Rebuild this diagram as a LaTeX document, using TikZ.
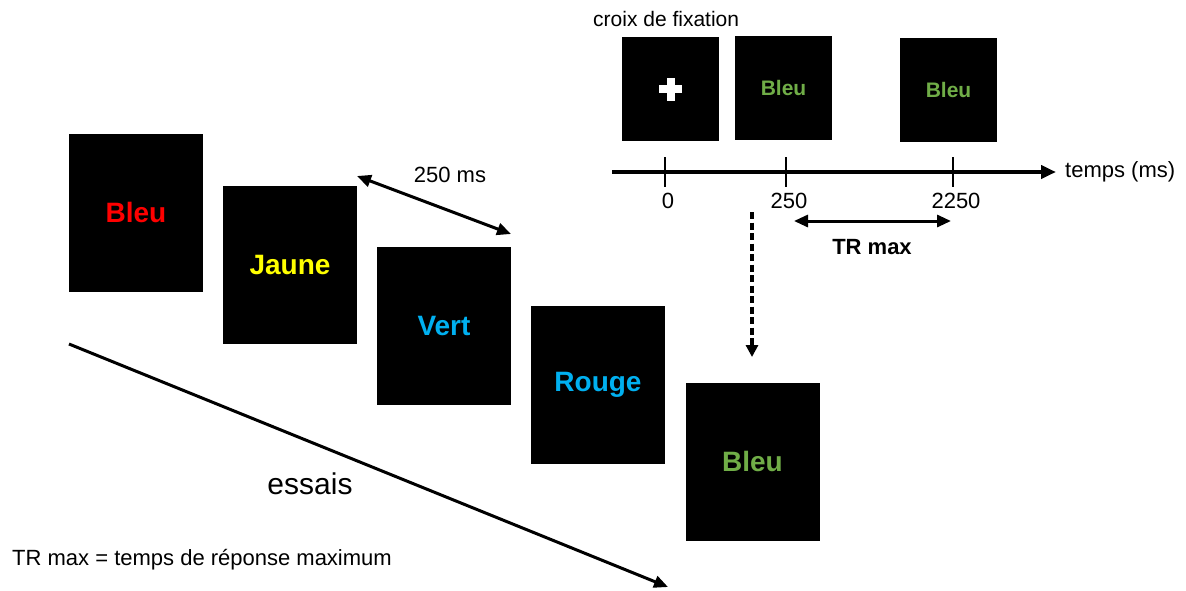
\documentclass[tikz,border=0pt]{standalone}
\usepackage{fontspec}
\setmainfont{Liberation Sans}
\usetikzlibrary{arrows.meta}

\definecolor{motrouge}{HTML}{FF0000}
\definecolor{motjaune}{HTML}{FFFF00}
\definecolor{motbleu}{HTML}{00B0F0}
\definecolor{motvert}{HTML}{70AD47}

\tikzset{
  ecran/.style={fill=black, draw=none, inner sep=0pt,
    minimum width=134pt, minimum height=158pt,
    font=\fontsize{28}{32}\selectfont\bfseries},
  petitecran/.style={fill=black, draw=none, inner sep=0pt,
    minimum width=97pt, minimum height=104pt,
    font=\fontsize{21}{24}\selectfont\bfseries, text=motvert},
  texte/.style={font=\fontsize{22}{26}\selectfont, inner sep=0pt},
  fleche/.style={line width=3pt, -{Triangle[length=14pt,width=12pt]}},
  double/.style={line width=3pt, {Triangle[length=14pt,width=12pt]}-{Triangle[length=14pt,width=12pt]}}
}

\begin{document}
\begin{tikzpicture}[x=1pt,y=-1pt]
    \useasboundingbox (0,0) rectangle (1186,590);

    % essais
    \node[ecran, text=motrouge] (e1) at (136,212.5) {Bleu};
    \node[ecran, text=motjaune] (e2) at (290,264.5) {Jaune};
    \node[ecran, text=motbleu]  (e3) at (444,325.5) {Vert};
    \node[ecran, text=motbleu]  (e4) at (598,384.5) {Rouge};
    \node[ecran, text=motvert]  (e5) at (752.5,461.5) {Bleu};

    \coordinate (a1) at (357,176);
    \coordinate (a2) at (511,234);
    \draw[double] (a1) -- (a2);
    \node[texte] (duree) at (450,175) {250 ms};

    \coordinate (s1) at (69,344);
    \coordinate (s2) at (668,587);
    \draw[fleche] (s1) -- (s2);
    \node[texte, font=\fontsize{30}{34}\selectfont] (essais) at (310,484) {essais};

    \node[texte, anchor=west] (legende) at (12,560) {TR max = temps de réponse maximum};

    % essai en detail
    \node[texte, anchor=west, font=\fontsize{21}{25}\selectfont] (croix) at (593,19) {croix de fixation};
    \node[petitecran] (fix) at (670.5,89) {};
    \fill[white] ([xshift=-11.5pt,yshift=-4pt]fix.center) rectangle ([xshift=11.5pt,yshift=4pt]fix.center);
    \fill[white] ([xshift=-4pt,yshift=-11.5pt]fix.center) rectangle ([xshift=4pt,yshift=11.5pt]fix.center);
    \node[petitecran] (stim) at (783.5,88) {Bleu};
    \node[petitecran] (rep) at (948.5,89.5) {Bleu};

    \coordinate (t0) at (612,172);
    \coordinate (t1) at (1056,172);
    \draw[line width=4pt, -{Triangle[length=15pt,width=13pt]}] (t0) -- (t1);
    \node[texte, anchor=west] (temps) at (1065,172) {temps (ms)};

    \foreach \px/\lab/\nom in {665/0/k0, 786/250/k1, 953/2250/k2} {
      \draw[line width=2pt] (\px,157) -- (\px,187);
      \node[texte] (\nom) at (\px+3,201) {\lab};
    }

    \coordinate (m1) at (794,221);
    \coordinate (m2) at (951,221);
    \draw[double] (m1) -- (m2);
    \node[texte, font=\fontsize{22}{26}\selectfont\bfseries] (trmax) at (872,247) {TR max};

    \coordinate (d1) at (752,212);
    \coordinate (d2) at (752,357);
    \draw[line width=3.5pt, dash pattern=on 7pt off 3.5pt, -{Triangle[length=12pt,width=12pt]}] (d1) -- (d2);
\end{tikzpicture}
\end{document}
